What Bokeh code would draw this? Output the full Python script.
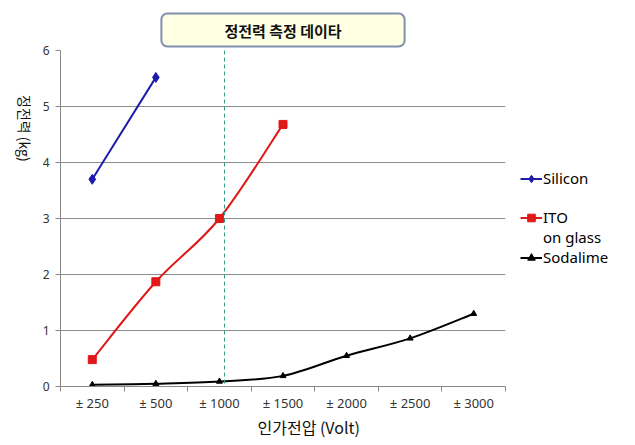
import math
from bokeh.plotting import figure
from bokeh.models import FixedTicker, Span, Label, Legend, LegendItem, Range1d, Title
from bokeh.embed import file_html
from bokeh.resources import INLINE

# ---- data ----
categories = ["± 250", "± 500", "± 1000", "± 1500", "± 2000", "± 2500", "± 3000"]
silicon = [3.70, 5.52]
ito = [0.48, 1.87, 3.00, 4.68]
sodalime = [0.03, 0.05, 0.09, 0.19, 0.55, 0.86, 1.30]
y_ticks = [0, 1, 2, 3, 4, 5, 6]
dashed_pos = 2.08  # position of vertical dashed marker (category units)

KR = "Noto Sans CJK KR"
LAT = "Noto Sans"


def smooth_segments(xs, ys):
    n = len(xs)
    out = dict(x0=[], y0=[], x1=[], y1=[], cx0=[], cy0=[], cx1=[], cy1=[])
    for i in range(n - 1):
        xp, yp = (xs[i - 1], ys[i - 1]) if i > 0 else (xs[i], ys[i])
        xn, yn = (xs[i + 2], ys[i + 2]) if i + 2 < n else (xs[i + 1], ys[i + 1])
        out["x0"].append(xs[i]); out["y0"].append(ys[i])
        out["x1"].append(xs[i + 1]); out["y1"].append(ys[i + 1])
        out["cx0"].append(xs[i] + (xs[i + 1] - xp) / 6)
        out["cy0"].append(ys[i] + (ys[i + 1] - yp) / 6)
        out["cx1"].append(xs[i + 1] - (xn - xs[i]) / 6)
        out["cy1"].append(ys[i + 1] - (yn - ys[i]) / 6)
    return out


p = figure(width=635, height=445, output_backend="svg", toolbar_location=None,
           x_range=Range1d(-0.5, 6.5), y_range=Range1d(0, 6),
           min_border_left=60, min_border_right=130, min_border_top=50, min_border_bottom=59,
           frame_width=445, frame_height=336)
p.outline_line_color = None
p.background_fill_color = "white"
p.border_fill_color = "white"

# title box
p.title = Title(text="정전력 측정 데이타", align="center", standoff=8,
                text_font=KR, text_font_size="15px", text_font_style="bold",
                text_color="#111111", background_fill_color="#FFFFE3",
                border_line_color="#8090b0", border_line_width=2,
                padding=(63, 6), border_radius=6)

# axes
xa = p.xaxis[0]
xa.ticker = FixedTicker(ticks=list(range(len(categories))),
                        minor_ticks=[i - 0.5 for i in range(len(categories) + 1)])
xa.major_label_overrides = {i: c for i, c in enumerate(categories)}
xa.major_tick_line_color = None
xa.minor_tick_in = 0
xa.minor_tick_out = 5
xa.minor_tick_line_color = "#888888"
xa.axis_line_color = "#888888"
xa.major_label_text_font = LAT
xa.major_label_text_font_size = "13px"
xa.major_label_text_color = "#333333"
xa.major_label_standoff = 1

ya = p.yaxis[0]
ya.ticker = FixedTicker(ticks=y_ticks)
ya.minor_tick_line_color = None
ya.major_tick_in = 0
ya.major_tick_out = 5
ya.major_tick_line_color = "#888888"
ya.axis_line_color = "#888888"
ya.major_label_text_font = LAT
ya.major_label_text_font_size = "12px"
ya.major_label_text_color = "#333333"
ya.major_label_standoff = 6

p.xgrid.grid_line_color = None
p.ygrid.ticker = FixedTicker(ticks=y_ticks[1:])
p.ygrid.grid_line_color = "#8c8c8c"
p.ygrid.grid_line_width = 1

# dashed marker line
p.add_layout(Span(location=dashed_pos, dimension="height", line_color="#3a9a8a",
                  line_dash="4 3", line_width=1))

# series
blue = "#1c1ca8"
red = "#e01818"
black = "#000000"

sx = list(range(len(silicon)))
l_sil = p.line(sx, silicon, line_color=blue, line_width=2)
s_sil = p.scatter(sx, silicon, marker="diamond", size=10, fill_color=blue, line_color=blue)

ix = list(range(len(ito)))
p.bezier(source=smooth_segments(ix, ito), x0="x0", y0="y0", x1="x1", y1="y1",
         cx0="cx0", cy0="cy0", cx1="cx1", cy1="cy1", line_color=red, line_width=2)
s_ito = p.scatter(ix, ito, marker="square", size=8, fill_color=red, line_color=red)

dx = list(range(len(sodalime)))
p.bezier(source=smooth_segments(dx, sodalime), x0="x0", y0="y0", x1="x1", y1="y1",
         cx0="cx0", cy0="cy0", cx1="cx1", cy1="cy1", line_color=black, line_width=2)
s_soda = p.scatter(dx, sodalime, marker="triangle", size=6, fill_color=black, line_color=black)

# legend swatch lines (kept outside the visible range)
l_ito = p.line(x=[-9, -8], y=[-9, -9], line_color=red, line_width=2)
l_soda = p.line(x=[-9, -8], y=[-9, -9], line_color=black, line_width=2)
l_none = p.line(x=[-9, -8], y=[-9, -9], line_alpha=0)

legend = Legend(items=[LegendItem(label="Silicon", renderers=[l_sil, s_sil]),
                       LegendItem(label=" ", renderers=[l_none]),
                       LegendItem(label="ITO", renderers=[l_ito, s_ito]),
                       LegendItem(label="on glass", renderers=[l_none]),
                       LegendItem(label="Sodalime", renderers=[l_soda, s_soda])],
                location=(15, 386 - 267), padding=0, margin=0, spacing=0,
                border_line_color=None, background_fill_alpha=0,
                glyph_width=22, glyph_height=19, label_height=19, label_standoff=1,
                label_text_font=LAT, label_text_font_size="15px",
                label_text_color="#000000")
p.add_layout(legend, "right")

# axis titles
p.add_layout(Title(text="인가전압 (Volt)", align="left", offset=197, standoff=0,
                   vertical_align="top",
                   text_font=KR, text_font_size="16px", text_font_style="normal",
                   text_color="#111111"), "below")
p.add_layout(Label(x=5, y=386 - 128, x_units="screen", y_units="screen", text="정전력 (kg)",
                   angle=-math.pi / 2, text_font=KR, text_font_size="14px",
                   text_align="center", text_baseline="middle", text_color="#111111"), "left")

open("out.html", "w").write(file_html(p, INLINE))
